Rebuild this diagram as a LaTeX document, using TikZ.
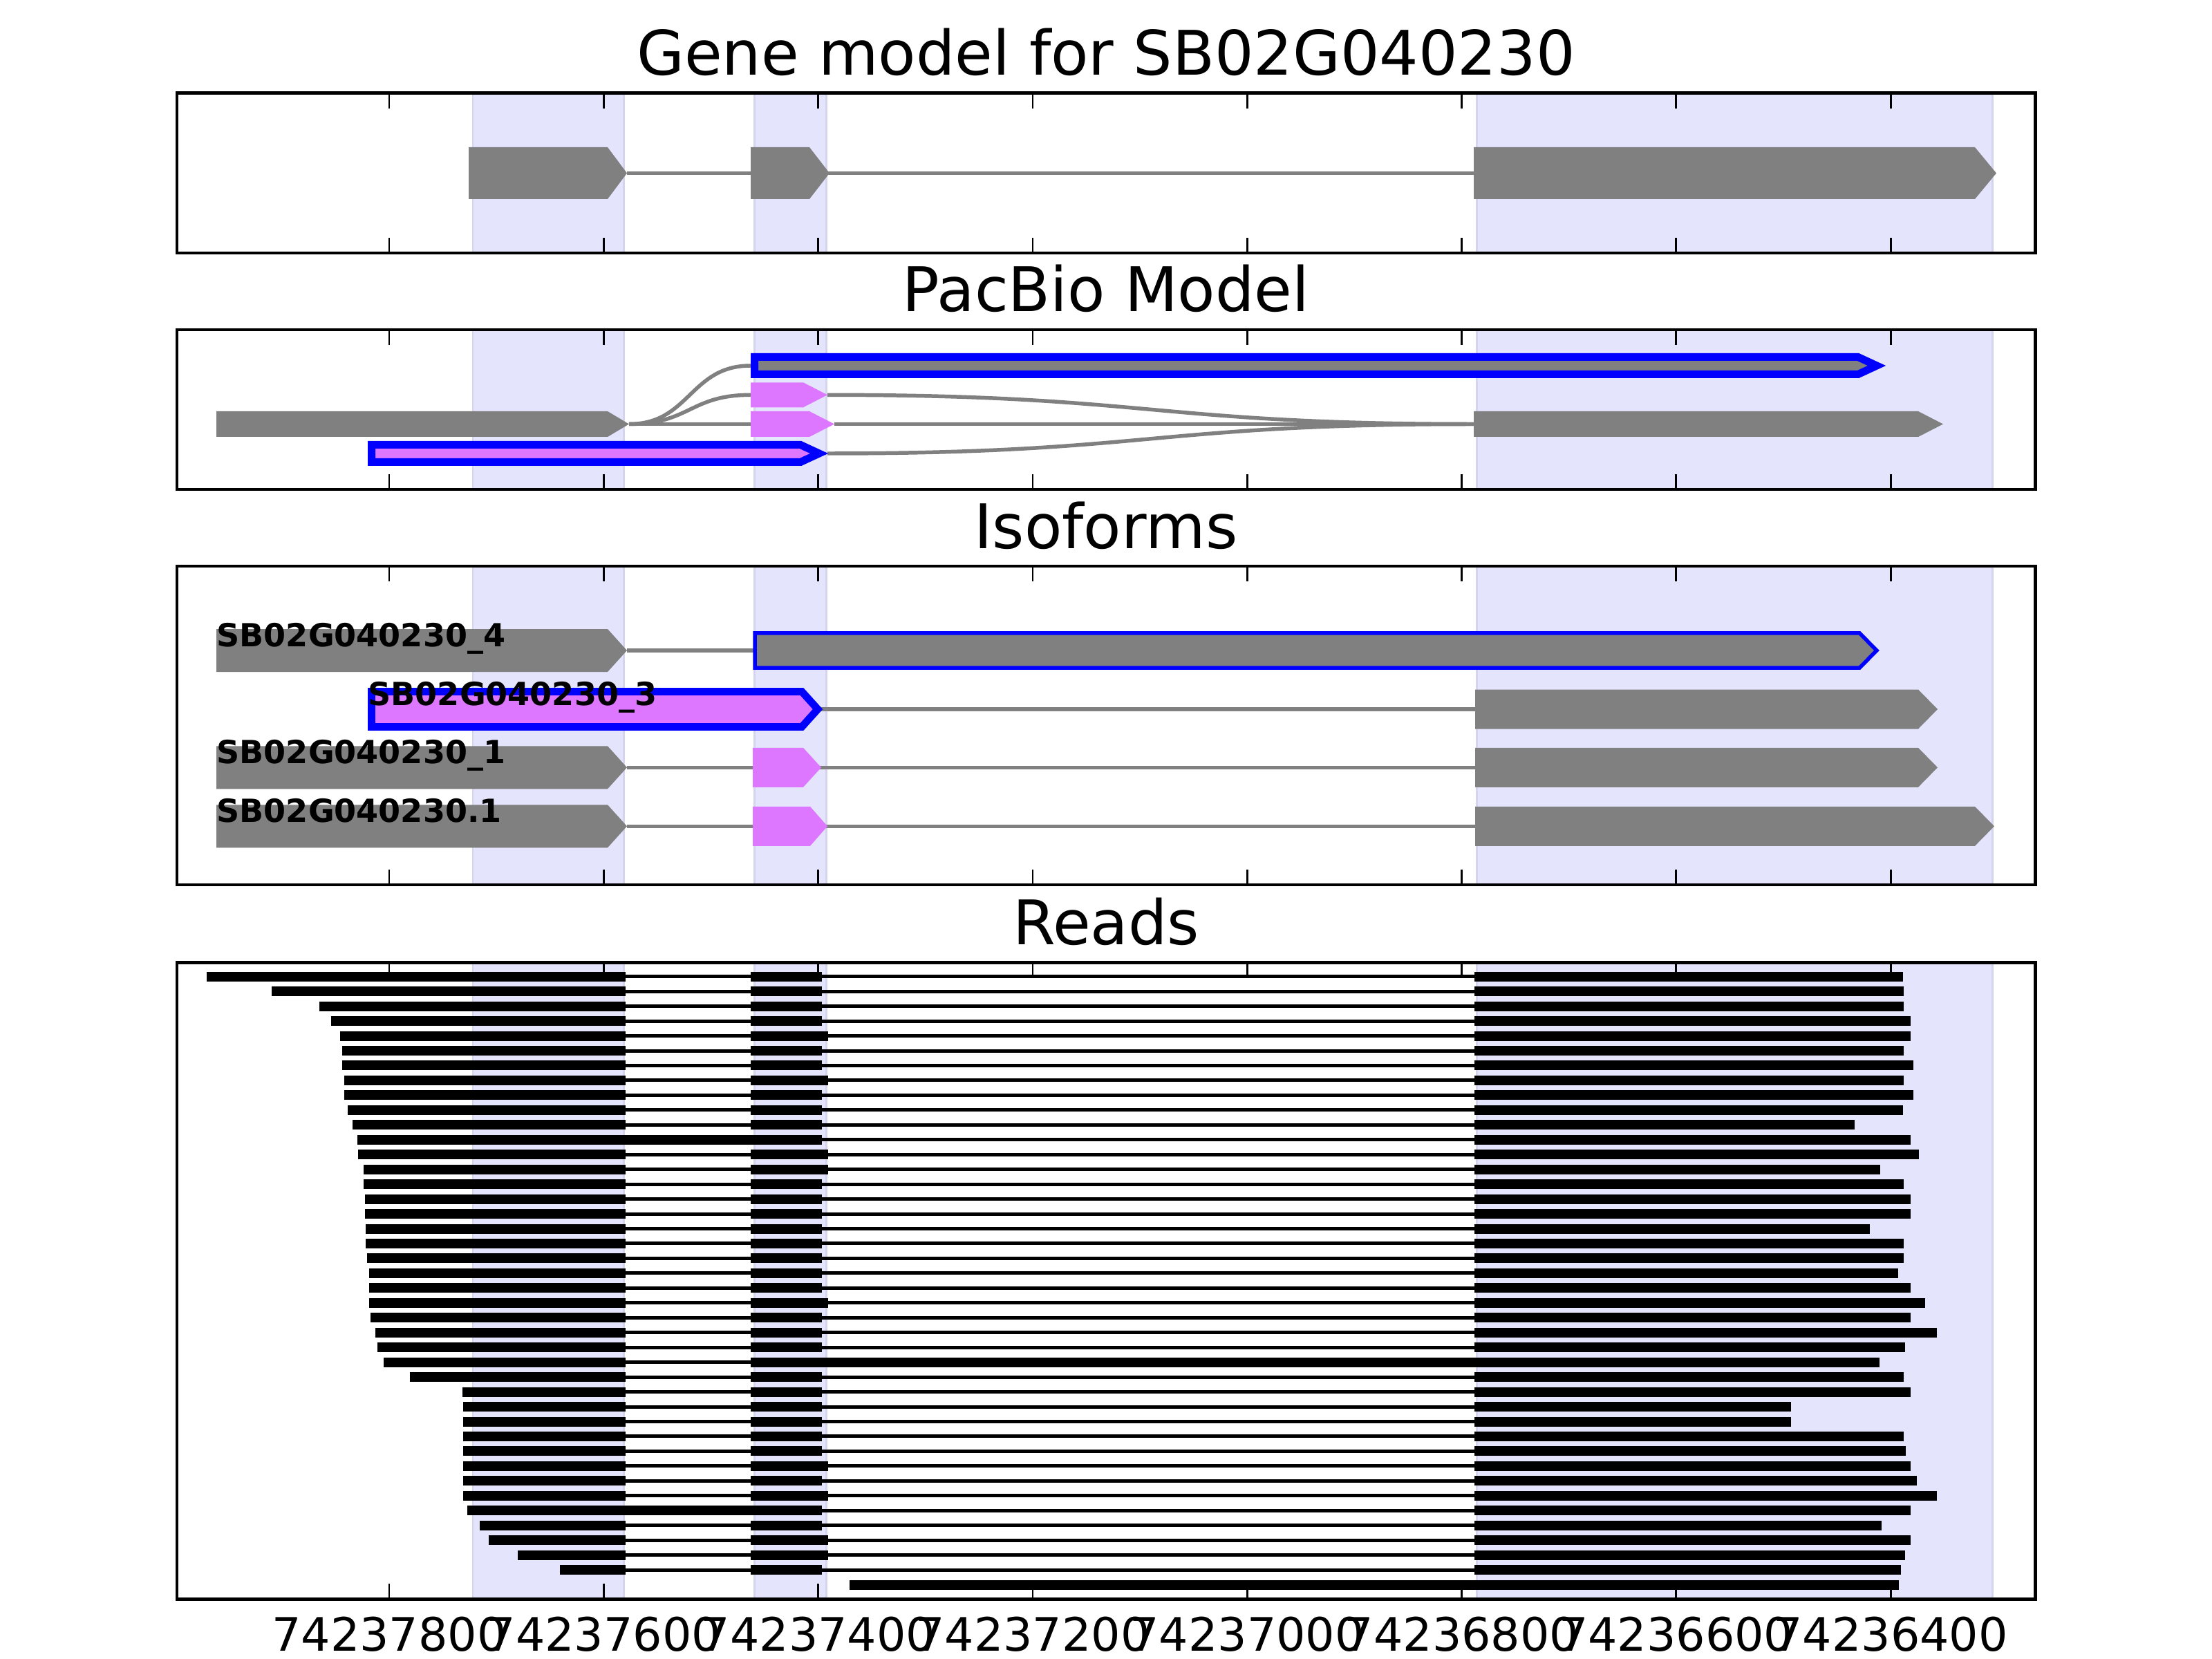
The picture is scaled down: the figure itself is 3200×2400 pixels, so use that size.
\documentclass[tikz,border=0pt]{standalone}
\usepackage{fontspec}
\setmainfont{DejaVu Sans}
\usepackage{tikz}
\usetikzlibrary{calc}
\definecolor{exongray}{RGB}{128,128,128}
\definecolor{exonpink}{RGB}{221,119,255}
\definecolor{spanfill}{RGB}{228,228,253}
\definecolor{spanedge}{RGB}{212,212,238}
% arrow shaped exon: style, start, body end, tip, centre y, half height
\newcommand{\exon}[6]{\path[#1] (#2,#5-#6) -- (#3,#5-#6) -- (#4,#5) -- (#3,#5+#6) -- (#2,#5+#6) -- cycle;}

\begin{document}
\begin{tikzpicture}[x=0.1mm, y=-0.1mm, line join=miter,
   trackframe/.style={draw, line width=1.42pt},
   tickmark/.style={line width=0.8pt},
   span/.style={fill=spanfill, draw=spanedge, line width=0.85pt},
   gexon/.style={fill=exongray},
   pexon/.style={fill=exonpink},
   outlined/.style={draw=blue, line width=#1},
   intron/.style={draw=exongray, line width=1.56pt},
   readbar/.style={fill=black},
   readgap/.style={draw=black, line width=1.42pt},
   paneltitle/.style={anchor=base, inner sep=0pt, font=\fontsize{25.3}{30}\selectfont},
   ticklabel/.style={anchor=base, inner sep=0pt, font=\fontsize{18.97}{23}\selectfont},
   isolabel/.style={anchor=base west, inner sep=0pt, font=\bfseries\fontsize{13.1}{16}\selectfont}]
  \useasboundingbox (0,0) rectangle (3200,2400);

  % shaded exon regions in every panel
  \foreach \ya/\yb in {135/366, 477/708, 819/1280, 1392/2313}
    \foreach \xa/\xb in {684/902.5, 1091/1195, 2136/2882}
      \path[span] (\xa,\ya) rectangle (\xb,\yb);

  % titles
  \node[paneltitle] (t1) at (1600,109) {Gene model for SB02G040230};
  \node[paneltitle] (t2) at (1600,451) {PacBio Model};
  \node[paneltitle] (t3) at (1600,793) {Isoforms};
  \node[paneltitle] (t4) at (1600,1366) {Reads};

  % gene model
  \draw[intron] (907,250.5) -- (2132,250.5);
  \exon{gexon}{678}{879}{907}{250.5}{37.5}
  \exon{gexon}{1086}{1171}{1200}{250.5}{37.5}
  \exon{gexon}{2132}{2857}{2888}{250.5}{37.5}

  % pacbio model
  \coordinate (ltip) at (910,613.5);
  \coordinate (ptip1) at (1197,571.3);
  \coordinate (ptip2) at (1207,613.5);
  \coordinate (btip) at (1197,656);
  \coordinate (rstart) at (2132,613.5);
  \draw[intron] (ltip) .. controls (998,613.5) and (998,529) .. (1086,529);
  \draw[intron] (ltip) .. controls (998,613.5) and (998,571.3) .. (1086,571.3);
  \draw[intron] (ltip) -- (1086,613.5);
  \draw[intron] (ptip1) .. controls (1665,571.3) and (1665,613.5) .. (rstart);
  \draw[intron] (ptip2) -- (rstart);
  \draw[intron] (btip) .. controls (1665,656) and (1665,613.5) .. (rstart);
  \exon{gexon}{313}{879}{910}{613.5}{18.5}
  \exon{pexon}{1086}{1162}{1197}{571.3}{18}
  \exon{pexon}{1086}{1171}{1207}{613.5}{18.5}
  \exon{gexon}{2132}{2775}{2811}{613.5}{18.5}
  \exon{gexon, outlined=3.13pt}{1091.5}{2688}{2715}{529}{12.5}
  \exon{pexon, outlined=3.13pt}{537.5}{1158}{1185}{656}{12.5}

  % isoforms
  \draw[intron] (907,941) -- (1092,941);
  \draw[intron] (1183,1026) -- (2134,1026);
  \draw[intron] (907,1110.3) -- (2134,1110.3);
  \draw[intron] (907,1195.3) -- (2134,1195.3);
  \exon{gexon}{313}{879}{907}{941}{31}
  \exon{gexon, outlined=1.56pt}{1092}{2690}{2715}{941}{25.2}
  \exon{pexon, outlined=3.04pt}{537.5}{1160}{1183}{1026}{25.5}
  \exon{gexon}{2134}{2775}{2803}{1026}{28.5}
  \exon{gexon}{313}{879}{907}{1110.3}{31}
  \exon{pexon}{1089}{1162}{1188}{1110.3}{28.5}
  \exon{gexon}{2134}{2775}{2803}{1110.3}{28.5}
  \exon{gexon}{313}{879}{907}{1195.3}{31}
  \exon{pexon}{1089}{1172}{1197}{1195.3}{28.5}
  \exon{gexon}{2134}{2857}{2885}{1195.3}{28.5}
  \node[isolabel] (i4) at (313,935.5) {SB02G040230\_4};
  \node[isolabel] (i3) at (532,1020.5) {SB02G040230\_3};
  \node[isolabel] (i1) at (313,1104.8) {SB02G040230\_1};
  \node[isolabel] (i01) at (313,1189.8) {SB02G040230.1};

  % reads: start / end of 2nd exon / end / kind (0 spliced, 1 and 2 retained intron, 3 unspliced)
  \foreach \s/\b/\e/\k [count=\i from 0] in {299/1189/2753/0, 393/1189/2754/0, 462/1189/2754/0,
      479/1189/2764/0, 492/1198/2764/0, 495/1189/2754/0, 495/1189/2768/0, 498/1198/2754/0,
      498/1189/2768/0, 503/1189/2753/0, 510/1189/2683/0, 517/1189/2764/1, 518/1198/2776/0,
      526/1198/2720/0, 526/1189/2754/0, 528/1189/2764/0, 528/1189/2764/0, 529/1189/2705/0,
      529/1189/2754/0, 531/1189/2754/0, 534/1189/2746/0, 534/1189/2764/0, 534/1198/2785/0,
      536/1189/2764/0, 543/1189/2802/0, 546/1189/2756/0, 555/1189/2719/2, 593/1189/2754/0,
      669/1189/2764/0, 670/1189/2591/0, 670/1189/2591/0, 670/1189/2754/0, 670/1189/2757/0,
      670/1198/2764/0, 670/1189/2773/0, 670/1198/2802/0, 676/1189/2764/1, 694/1189/2722/0,
      707/1198/2764/0, 749/1198/2756/0, 810/1189/2750/0, 1229/1189/2747/3} {
    \pgfmathsetmacro{\y}{1412.7+21.46*\i}
    \draw[readgap] (\s,\y) -- (\e,\y);
    \ifcase\k\relax
      \path[readbar] (\s,\y-7) rectangle (905,\y+7);
      \path[readbar] (1086,\y-7) rectangle (\b,\y+7);
      \path[readbar] (2133,\y-7) rectangle (\e,\y+7);
    \or
      \path[readbar] (\s,\y-7) rectangle (\b,\y+7);
      \path[readbar] (2133,\y-7) rectangle (\e,\y+7);
    \or
      \path[readbar] (\s,\y-7) rectangle (905,\y+7);
      \path[readbar] (1086,\y-7) rectangle (\e,\y+7);
    \or
      \path[readbar] (\s,\y-7) rectangle (\e,\y+7);
    \fi
  }

  % frames and ticks
  \foreach \ya/\yb in {135/366, 477/708, 819/1280, 1392/2313} {
    \foreach \i in {0,...,7} {
      \draw[tickmark] (563+310.3*\i,\ya) -- ++(0,22);
      \draw[tickmark] (563+310.3*\i,\yb) -- ++(0,-22);
    }
    \draw[trackframe] (256,\ya) rectangle (2944,\yb);
  }
  \foreach \lab [count=\i from 0] in {74237800,74237600,74237400,74237200,74237000,74236800,74236600,74236400}
    \node[ticklabel] (tk\i) at (563+310.3*\i,2388) {\lab};
\end{tikzpicture}
\end{document}
